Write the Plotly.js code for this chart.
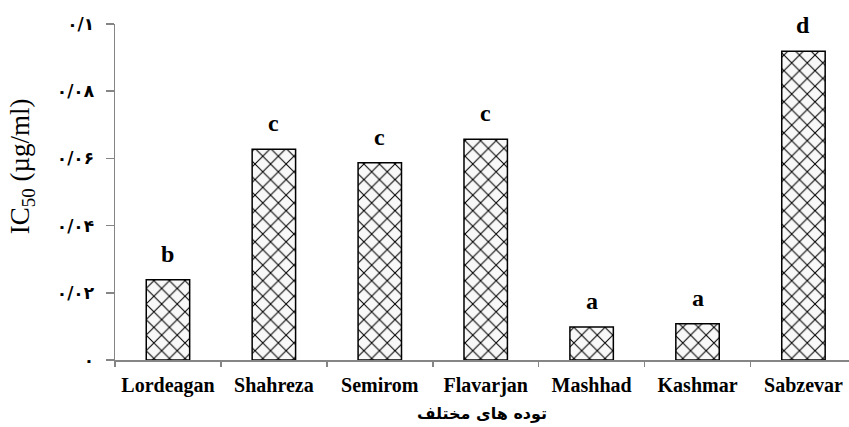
<!DOCTYPE html>
<html>
<head>
<meta charset="utf-8">
<script src="https://cdn.plot.ly/plotly-3.0.1.min.js"></script>
<style>html,body{margin:0;padding:0;background:#fff;}#chart{width:849px;height:427px;}</style>
</head>
<body>
<div id="chart"></div>
<script>
const categories = ['Lordeagan', 'Shahreza', 'Semirom', 'Flavarjan', 'Mashhad', 'Kashmar', 'Sabzevar'];
const ic50Values = [0.0239, 0.0627, 0.0587, 0.0657, 0.0098, 0.0108, 0.0919];
const groupLetters = ['b', 'c', 'c', 'c', 'a', 'a', 'd'];
const yTickValues = [0, 0.02, 0.04, 0.06, 0.08, 0.1];
const yTickLabels = ['۰', '۰/۰۲', '۰/۰۴', '۰/۰۶', '۰/۰۸', '۰/۱'];
const xTitle = 'توده های مختلف';
const yTitle = 'IC<sub>50</sub> (µg/ml)';

const serif = '"Liberation Serif", "Times New Roman", serif';

const trace = {
  type: 'bar',
  x: categories,
  y: ic50Values,
  width: 0.41,
  marker: {
    color: '#ffffff',
    line: {color: '#000000', width: 1.5},
    pattern: {shape: 'x', fgcolor: '#000000', bgcolor: '#f8f8f8', size: 11, solidity: 0.18}
  },
  hoverinfo: 'x+y'
};

const annotations = categories.map((c, i) => ({
  x: c, y: ic50Values[i], xref: 'x', yref: 'y',
  text: '<b>' + groupLetters[i] + '</b>',
  showarrow: false, yanchor: 'bottom', yshift: 11,
  font: {family: serif, size: 24, color: '#000'}
}));

annotations.push({
  x: -93 / 734, xref: 'paper', xanchor: 'center', y: 0.577, yref: 'paper', yanchor: 'middle',
  text: yTitle, textangle: -90, showarrow: false,
  font: {family: serif, size: 27, color: '#000'}
});

const layout = {
  width: 849, height: 427,
  margin: {l: 115, r: 0, t: 24, b: 67},
  paper_bgcolor: '#fff', plot_bgcolor: '#fff',
  showlegend: false,
  xaxis: {
    type: 'category',
    range: [-0.5, 6.43],
    showline: true, linecolor: '#858585', linewidth: 1.5,
    ticks: 'outside', tickson: 'boundaries', ticklen: 5, tickcolor: '#858585', tickwidth: 1.5,
    showgrid: false, zeroline: false,
    ticklabelstandoff: 6,
    tickfont: {family: serif, size: 20, color: '#000', weight: 'bold'},
    title: {text: '<b>' + xTitle + '</b>', font: {family: '"DejaVu Sans", sans-serif', size: 16, color: '#000'}, standoff: 12}
  },
  yaxis: {
    range: [0, 0.1],
    tickvals: yTickValues, ticktext: yTickLabels,
    showline: true, linecolor: '#858585', linewidth: 1.5,
    ticks: 'outside', ticklen: 8, tickcolor: '#858585', tickwidth: 1.5,
    showgrid: false, zeroline: false,
    ticklabelstandoff: 8,
    tickfont: {family: '"DejaVu Sans", sans-serif', size: 17, color: '#000', weight: 'bold'}
  },
  annotations: annotations
};

Plotly.newPlot('chart', [trace], layout, {displayModeBar: false, staticPlot: true});
</script>
</body>
</html>
